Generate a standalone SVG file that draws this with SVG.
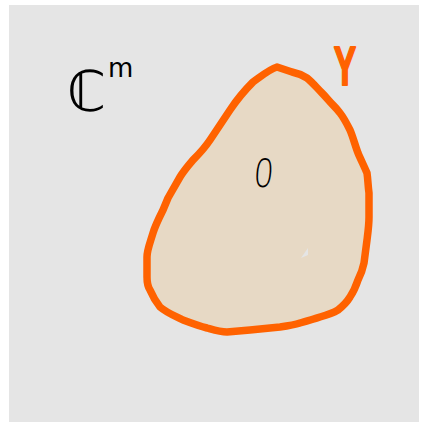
<svg xmlns="http://www.w3.org/2000/svg" width="421" height="422" viewBox="0 0 421 422">
<style>
.bg{fill:#e5e5e5}
.blob{fill:#e7d9c5;stroke:#ff6200;stroke-width:7.5;stroke-linejoin:round}
.lbl{font-family:"DejaVu Sans","Liberation Sans",sans-serif;fill:#000}
.y{font-family:"Liberation Sans",sans-serif;font-weight:bold;fill:#ff6200;stroke:#ff6200;stroke-width:2;stroke-linejoin:round}
</style>
<rect class="bg" x="9" y="5" width="410" height="417"/>
<g id="Y-region">
<path class="blob" d="M277,67 C270,69 264,74 253,82 C243,92 236,101 230,110 C222,122 216,131 210,140 C204,149 198,155 193,160 C187,167 183,172 180,177 C176,184 172,191 168,198 L163,210 C158,220 155,226 153,233 C150,243 147,250 147,257 L147,277 C147,283 148,287 150,290 C153,297 156,302 160,307 C167,313 175,316 183,320 C191,323 199,326 207,328 C214,330 220,332 227,332 L250,330 C260,329 270,328 280,327 C287,326 294,325 300,323 C307,321 314,319 320,317 C327,315 333,313 338,310 C343,306 347,302 350,297 C354,291 356,286 358,280 C361,274 363,268 364,263 L367,240 C368,232 369,225 369,217 L369,193 C368,186 368,180 367,173 C364,166 361,160 358,153 C355,145 353,137 350,130 C347,124 344,118 340,113 C337,109 335,107 333,105 C329,101 326,97 322,93 C317,88 312,82 307,78 C302,75 297,73 292,72 Z"/>
<polygon points="308,248 308,255 301,258" fill="#e5e5e5"/>
</g>
<g id="label-Y"><text class="y" x="345" y="85" font-size="56" text-anchor="middle" transform="translate(345 0) scale(0.6 1) translate(-345 0)">Y</text></g>
<g id="label-Cm"><text class="lbl" x="67" y="111" font-size="56">ℂ<tspan font-size="26" dy="-34" dx="2">m</tspan></text></g>
<g id="label-0"><text x="264" y="187" font-size="40" font-weight="300" font-family="'Open Sans','DejaVu Sans',sans-serif" text-anchor="middle" transform="translate(264 172) scale(0.8 1) skewX(-6) translate(-264 -172)">0</text></g>
</svg>
